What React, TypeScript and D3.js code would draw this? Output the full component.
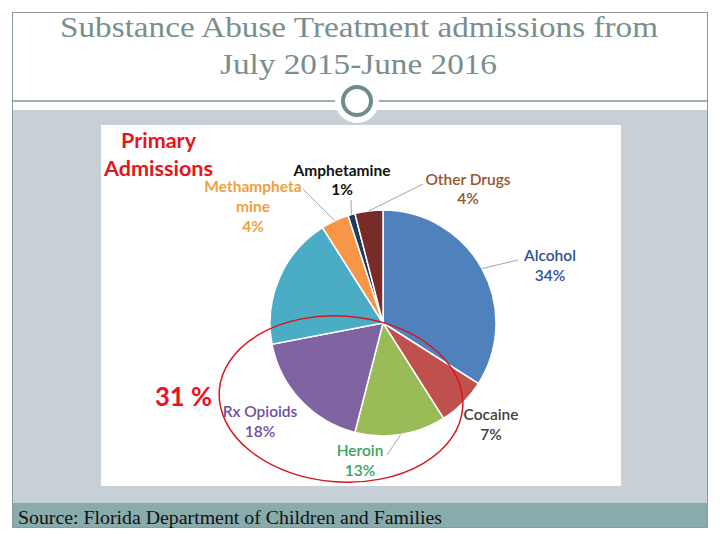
import React from "react";
import * as d3 from "d3";

const categories = ["Alcohol", "Cocaine", "Heroin", "Rx Opioids", "(unlabeled)", "Methamphetamine", "Amphetamine", "Other Drugs"];
const values = [34, 7, 13, 18, 19, 4, 1, 4];
const sliceColors = ["#4f81bd", "#c0504d", "#9bbb59", "#8064a2", "#4bacc6", "#f79646", "#1f3a5f", "#772c2a"];
const labelLines = [["Alcohol", "34%"], ["Cocaine", "7%"], ["Heroin", "13%"], ["Rx Opioids", "18%"], [], ["Methampheta", "mine", "4%"], ["Amphetamine", "1%"], ["Other Drugs", "4%"]];
const labelColors = ["#2f4f9f", "#404040", "#3aa35a", "#6f4f9f", "", "#f0a040", "#111111", "#99552a"];
const titleLines = ["Substance Abuse Treatment admissions from", "July 2015-June 2016"];
const sourceText = "Source: Florida Department of Children and Families";
const calloutText = "31 %";
const headingLines = ["Primary", "Admissions"];

// layout (not data)
const cx = 383, cy = 323, R = 113;
const labelPos: ({ x: number; y: number; dy: number; lead?: [number, number]; bold?: boolean } | null)[] = [
  { x: 550, y: 261, dy: 19.5, lead: [518, 260], bold: false },
  { x: 491, y: 420, dy: 19.5, bold: false },
  { x: 360, y: 456, dy: 20, lead: [387, 455], bold: false },
  { x: 260, y: 417, dy: 20, bold: false },
  null,
  { x: 253, y: 192, dy: 20, lead: [303, 189], bold: true },
  { x: 342, y: 176, dy: 19, lead: [351, 200], bold: true },
  { x: 468, y: 185, dy: 18.5, lead: [423, 184], bold: false },
];

export default function App() {
  const pie = d3.pie<number>().sort(null).value((d) => d)(values);
  const arc = d3.arc<d3.PieArcDatum<number>>().innerRadius(0).outerRadius(R);
  const sans = "Lato, 'Open Sans', sans-serif";
  const serif = "'Liberation Serif', 'DejaVu Serif', serif";
  return (
    <svg width={720} height={540} style={{ position: "absolute", left: 0, top: 0 }}>
      <rect x={0} y={0} width={720} height={540} fill="#ffffff" />
      <rect x={12} y={110} width={696} height={393} fill="#c6d0d6" />
      <rect x={12} y={503} width={696} height={25} fill="#8aabab" />
      <rect x={12.5} y={12.5} width={695} height={515} fill="none" stroke="#8a9a9a" strokeWidth={1} />
      <line x1={12} x2={708} y1={101} y2={101} stroke="#7f9393" strokeWidth={1.5} />
      <circle cx={357} cy={101} r={22} fill="#ffffff" />
      <circle cx={357} cy={101} r={14} fill="#ffffff" stroke="#6f8c8c" strokeWidth={4} />
      {titleLines.map((t, i) => (
        <text key={i} x={i === 0 ? 60 : 220} y={i === 0 ? 37 : 74} fontFamily={serif} fontSize={30}
          fill="#7a8e8e" textLength={i === 0 ? 598 : 277} lengthAdjust="spacingAndGlyphs">{t}</text>
      ))}
      <rect x={101} y={125} width={520} height={361} fill="#ffffff" />
      {pie.map((p, i) => (
        <path key={i} d={arc(p) as string} transform={`translate(${cx},${cy})`} fill={sliceColors[i]}
          stroke="#ffffff" strokeWidth={1.5} />
      ))}
      {pie.map((p, i) => {
        const lp = labelPos[i];
        if (!lp || !lp.lead) return null;
        const a = (p.startAngle + p.endAngle) / 2;
        const ex = cx + R * Math.sin(a), ey = cy - R * Math.cos(a);
        return <line key={"l" + i} x1={lp.lead[0]} y1={lp.lead[1]} x2={ex} y2={ey} stroke="#a6a6a6" strokeWidth={1} />;
      })}
      {labelLines.map((lines, i) => {
        const lp = labelPos[i];
        if (!lp) return null;
        return (
          <text key={"t" + i} textAnchor="middle" fontFamily={sans} fontSize={15.5}
            fontWeight={lp.bold ? 700 : 600} fill={labelColors[i]}>
            {lines.map((s, j) => (
              <tspan key={j} x={lp.x} y={lp.y + j * lp.dy}>{s}</tspan>
            ))}
          </text>
        );
      })}
      {headingLines.map((t, i) => (
        <text key={"h" + i} x={i === 0 ? 121 : 104} y={i === 0 ? 148 : 176} fontFamily={sans} fontSize={21}
          fontWeight={700} fill="#e8141b" textLength={i === 0 ? 75 : 109} lengthAdjust="spacingAndGlyphs">{t}</text>
      ))}
      <text x={155} y={406} fontFamily={sans} fontSize={26} fontWeight={700} fill="#e8141b"
        textLength={57} lengthAdjust="spacingAndGlyphs">{calloutText}</text>
      <ellipse cx={341} cy={399} rx={122} ry={83} transform="rotate(4 341 399)" fill="none"
        stroke="#d9141b" strokeWidth={1.5} />
      <text x={18} y={524} fontFamily={serif} fontSize={18} fill="#111111" textLength={424}
        lengthAdjust="spacingAndGlyphs">{sourceText}</text>
    </svg>
  );
}
